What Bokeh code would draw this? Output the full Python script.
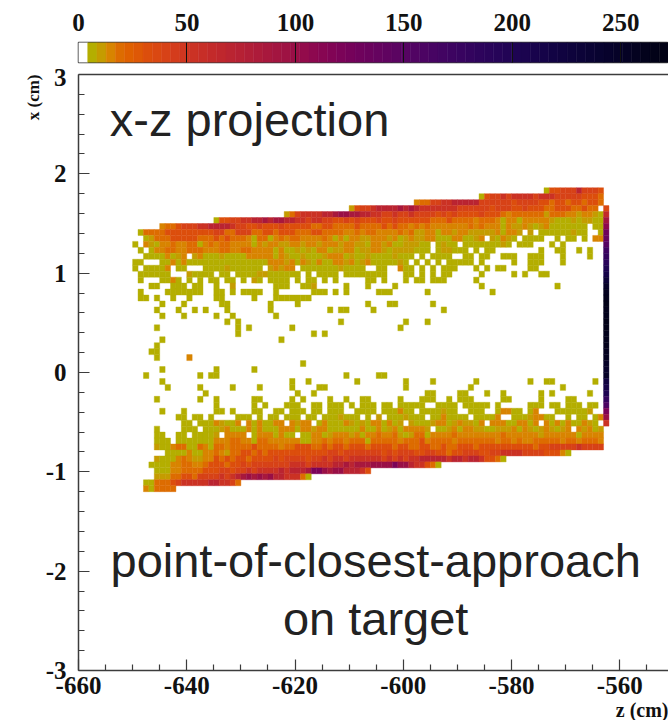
from bokeh.plotting import figure
from bokeh.layouts import column
from bokeh.models import ColumnDataSource, LinearColorMapper, LinearAxis, FixedTicker, Label, Title
from bokeh.embed import file_html
from bokeh.resources import INLINE

# tick labels
z_ticks = [-660, -640, -620, -600, -580, -560]
z_minor = [-655, -650, -645, -635, -630, -625, -615, -610, -605, -595, -590, -585, -575, -570, -565, -555]
x_ticks = [-3, -2, -1, 0, 1, 2, 3]
x_minor = [-2.8, -2.6, -2.4, -2.2, -1.8, -1.6, -1.4, -1.2, -0.8, -0.6, -0.4, -0.2,
           0.2, 0.4, 0.6, 0.8, 1.2, 1.4, 1.6, 1.8, 2.2, 2.4, 2.6, 2.8]
color_ticks = [0, 50, 100, 150, 200, 250]
count_max = 272

palette = ["#ffffff", "#b4ae00", "#c59c00", "#d88400", "#dd6c00", "#df6000", "#de5806", "#dc4e0c",
           "#da4812", "#d74217", "#d43c1c", "#d03720", "#cb3224", "#c72e27", "#c32a2a", "#bf272d",
           "#ba2431", "#b62134", "#b11e37", "#ad1b3a", "#a8183d", "#a31540", "#9e1243", "#990f46",
           "#930b4b", "#8d084f", "#870652", "#810455", "#7b0358", "#75025a", "#6f025c", "#6a025d",
           "#65035f", "#600360", "#5b0461", "#560462", "#510463", "#4c0463", "#470463", "#420462",
           "#3d0461", "#380460", "#33045e", "#2e045c", "#2a045a", "#260458", "#220455", "#1e0452",
           "#1b044f", "#18034c", "#150348", "#120344", "#100340", "#0e033c", "#0c0338", "#0a0334",
           "#080330", "#07022c", "#060228", "#050224", "#040220", "#03021c", "#020218", "#010114"]

# estimated bin contents for each letter
level_counts = {"a": 5, "b": 9, "c": 13, "d": 20, "e": 30, "f": 42, "g": 55, "h": 70,
                "i": 85, "j": 100, "k": 120}

# One string per x bin, top to bottom, z bins in groups of ten from z = -650.
# "-" marks an empty group.
first_row_upper = 31
rows_upper = [
    "- - - - - - - ......aeef ffhfffe",
    "- - - - - - ....aeffgf ggggfgggff fffeeed",
    "- - - - - ..cddffggh hhhhffffff effffeedee deedeed",
    "- - - - beffghhhhi hihggggggg ffffffefff eefeeeddee eddedd.",
    "- - ........bd fgggghhijj iihhggffgf fgffffefef eeeefeeedc ddddddbddd ccbccba",
    "- .....aeeff gghhihiihh ggfggffeef efeeefeefe eeeeeddded dddcdddcac cacccccbaa ababbaa",
    ".....cddef ffgghhhhgf feefeeefee eeeddeeddd deddddeded dcdcdccccc ccdcdcccac bbcbabcaaa aaaa.aa",
    ".addddeeee eeeeeffddf ffddeedeee dddeeddddc cdcddccccd cdbbccaccb ccbbbbbcac cb.b.aaaaa abaa..a",
    "..abdddeee eedddededd dcaddacdcd dccccdcaca ccbbcccbca bcbbccaaac caabc.bacb a.aaaa..a. aa.a.cc",
    "a.cbaccdcc ddacdcddcc ccacbccbbc cbccbcccbc cbbaccbcaa bbbaa.abaa .aaaaaaaba .aaa...a.a",
    ".a.accddcc dddcccddcc ddccccacaa babaccabbc cabbccbabb bbaaa.abba aa.a.aa... .....a..aa ..a.a..",
    "..aaaacabc .bcaaabaaa acccccacba abaaabccca baabaaaaba aa.a.aaaa. .aa.aa..aa a..aaa...a ....a..",
    "aa...aacac aaaaaaaaaa aaaaacccbc acbacaaccb cabcaaaaab a.a.a.a.aa aaa.a..... a..aaa...a",
    "a.aaaac.aa ...aaaabaa aaaa.bcbcc .aaaaaaaba aaa..aa..c aa.a.a.aaa ...a.a.aa. ...aa.....",
    ".aaaaaa... baaaa.aa.a aaabbaaaaa a.a.aaaa.a aaaaaaa... aa.a.a.aa. ....a..... a.a..aa...",
    ".a...aaca. a.a.aa.aa. a.ba.aaaa. a.aa.a.a.. ...aa.a... a.aa.aaa.. ...a......",
    "...aa..aaa .aa..a..b. ......aaa. .aab.....a ...a....a. - ....a..... ........a.",
    ".a....aaaa aaa..aa.a. aaaa..a... ...aaa.a.a .....aaa.. ....a..... ......a...",
    ".aa.a..a.. a....aa... ..a...aaaa aaa.......",
    ".....a...a ......aa.. .....a.... a......... ...a...aa. .....a....",
    "....a...a. .a.a...a.. .....a.... ......a.aa ....a..... .......a..",
    ".....a...a .....a..a. ......a...",
    "- .......a.a - ........a. - a...a.....",
    "....a..... .........a .a.......a - .........a",
    "- .........a - ...a.a....",
    ".....a.... - .......a..",
    "....a.....",
    "...aa.....",
    "....a..... c.........",
    "- - - .a........",
    ".....a.... .....a.... ..a.......",
    "..a....... ..a.aa.... - .........a .....aa...",
]

first_row_lower = -1
rows_lower = [
    ".....a.... - .........a ..a....... .a........ a....a.... ...a...... ...a..aa.. .....a.",
    "......a... ..a.....a. ...a.....a ....aa.... - a......... ..a....... .........a",
    "- ...a...... - a..a...... - ....aa.... aa...a..a. .....a.a.. ....a..",
    "....a..... ..a..a.... ..aa.....a .a....a..a ..aa.....a ...aaa..a. aaa.....aa .....a.... aa.....",
    "- .....a.... ..a.a...aa a..aa.aaa. a.aaa.aa.a aaaa..aaaa .aaaaa.a.. ...aaa.aa. aaa.aa.",
    ".....a...a .....aa.a. ..aa..aa.a aa.aa.aaa. .aaaa.aaac aa.aaaabaa ..aaa..acc aa.ac...aa aaaab..",
    "........aa .aa.a....a aa.a.aa.aa a.aa.aaaba aa.a.b.aaa baaa.aacaa aa.aaaac.. aaabccaa.. a.aa.ac",
    ".........a a.aaacbaac .cacaacc.c bcc.acaaac babaccacab .baaabccab cbbac.ccca accac.caca caacba.",
    "....a....a aa.aaabcaa acacaaaccc accbccaaaa aacaacabca ccccb.aabc accbbaabbb cacbabcbab c.cbcab",
    "....aa..aa .aaaab.ccc c.acccacaa .aaccabccc bcaccdccdb abddaccccd ccccccccdc cccccbcccc ccacccc",
    "....aaa.aa aaaaacccdd ccaddccccc caaccdcddc dddadddddc dddecddddc dddddddcdd cdccdddddc ddcdddc",
    "....baacdd aadcaddcdd ddeddddcdd eeeddedeed eeedeeeede eddeeddedd eeedeeeeee eeeedeefff ffgffff",
    "......aaaa caaccdcbdd eededeeeee eeeeeeffef ffffffefef ffeeffeede efffeeffgg ggffffeeec a......",
    "....baaacd cbbccedede edeeeefeff ffeffgfggf ggggggfgfg fgghhhhhgh hghhgeeda.",
    "...aaaaccd dccdeeedee fefffffffg ggfgggghhi hiiijjjjkj jhggeda...",
    "....aaaccd dddeeeffef fgfgggghgh hhikkjijjh hhge......",
    "....bbbdde edffffgfgh ijijijhhgg gda.......",
    "..aadddefg gggghhggfd",
    "..cadddd..",
]

# the thin column at the downstream end of the target
strip_first_row = 28
strip_counts = [35, 60, 90, 110, 130, 140, 150, 170, 180, 190, 200, 215, 230, 250, 255, 260, 265,
                262, 262, 265, 265, 262, 260, 262, 258, 255, 250, 245, 250, 225, 215, 200, 180,
                160, 120, 100, 55]
strip_z_bin = -563

z_bin_start = -650
z_bin_width = 1.0
x_bin_width = 0.06

INK = "#111111"
AXIS = "#3c3c3c"
SERIF = "Liberation Serif"
SANS = "Liberation Sans"


def read_rows(rows, first_row):
    zs, xs, vs = [], [], []
    for r, row in enumerate(rows):
        k = first_row - r
        for g, group in enumerate(row.split(" ")):
            if group == "-":
                continue
            for i, ch in enumerate(group):
                if ch in level_counts:
                    zs.append(z_bin_start + 10 * g + i + z_bin_width / 2)
                    xs.append((k - 0.5) * x_bin_width)
                    vs.append(level_counts[ch])
    return zs, xs, vs


z1, x1, v1 = read_rows(rows_upper, first_row_upper)
z2, x2, v2 = read_rows(rows_lower, first_row_lower)
z3 = [strip_z_bin + z_bin_width / 2 for _ in strip_counts]
x3 = [(strip_first_row - i - 0.5) * x_bin_width for i in range(len(strip_counts))]

source = ColumnDataSource(dict(z=z1 + z2 + z3, x=x1 + x2 + x3, n=v1 + v2 + strip_counts))
mapper = LinearColorMapper(palette=palette, low=0, high=count_max)

# ---------- colour scale
step = count_max / len(palette)
cb = figure(width=668, height=68, x_range=(0, count_max), y_range=(0, 1),
            output_backend="svg", toolbar_location=None, x_axis_location="above",
            min_border_left=78, min_border_right=0, min_border_top=42, min_border_bottom=6)
cb.quad(left=[i * step for i in range(len(palette))],
        right=[(i + 1) * step for i in range(len(palette))],
        bottom=0, top=1, fill_color=palette, line_color=palette, line_width=0.5)
cb.yaxis.visible = False
cb.ygrid.visible = False
cb.xaxis.ticker = FixedTicker(ticks=color_ticks)
cb.xaxis.axis_line_color = None
cb.xaxis.major_tick_line_color = None
cb.xaxis.minor_tick_line_color = None
cb.xaxis.major_label_standoff = 6
cb.xaxis.major_label_text_font = SERIF
cb.xaxis.major_label_text_font_style = "bold"
cb.xaxis.major_label_text_font_size = "25px"
cb.xaxis.major_label_text_color = INK
cb.xgrid.ticker = FixedTicker(ticks=color_ticks)
cb.xgrid.grid_line_color = "#111111"
cb.xgrid.grid_line_width = 1
cb.xgrid.level = "overlay"
cb.outline_line_color = AXIS
cb.outline_line_width = 1.5

# ---------- main panel
p = figure(width=668, height=652, x_range=(-660, -551), y_range=(-3, 3),
           output_backend="svg", toolbar_location=None,
           min_border_left=78, min_border_right=0, min_border_top=6, min_border_bottom=50)
p.rect(x="z", y="x", width=z_bin_width, height=x_bin_width, source=source,
       fill_color={"field": "n", "transform": mapper},
       line_color={"field": "n", "transform": mapper}, line_width=0.4)
p.grid.visible = False
p.outline_line_color = None

for ax, major, minor in ((p.xaxis, z_ticks, z_minor), (p.yaxis, x_ticks, x_minor)):
    ax.ticker = FixedTicker(ticks=major, minor_ticks=minor)
    ax.major_label_overrides = {t: str(t) for t in major}
    ax.major_tick_in = 11
    ax.major_tick_out = 0
    ax.minor_tick_in = 6
    ax.minor_tick_out = 0
    ax.axis_line_color = AXIS
    ax.axis_line_width = 1.5
    ax.major_tick_line_color = AXIS
    ax.major_tick_line_width = 1.2
    ax.minor_tick_line_color = AXIS
    ax.minor_tick_line_width = 1.2
    ax.major_label_text_font = SERIF
    ax.major_label_text_font_style = "bold"
    ax.major_label_text_font_size = "25px"
    ax.major_label_text_color = INK
p.xaxis.major_label_standoff = 6
p.yaxis.major_label_standoff = 12

top_axis = LinearAxis(ticker=FixedTicker(ticks=[]), axis_line_color=AXIS, axis_line_width=1.5,
                      major_tick_line_color=None, minor_tick_line_color=None,
                      major_label_text_color=None)
p.add_layout(top_axis, "above")

p.add_layout(Title(text="x (cm)", align="right", text_font=SERIF, text_font_style="bold",
                   text_font_size="17px", text_color=INK, standoff=0), "left")
p.add_layout(Title(text="z (cm)", align="right", text_font=SERIF, text_font_style="bold",
                   text_font_size="20px", text_color=INK, standoff=0), "below")

for zpos, xpos, txt, size in ((-628.4, 2.55, "x-z projection", "47px"),
                              (-605.1, -1.89, "point-of-closest-approach", "47px"),
                              (-605.1, -2.48, "on target", "47px")):
    p.add_layout(Label(x=zpos, y=xpos, text=txt, text_align="center", text_baseline="middle",
                       text_font=SANS, text_font_size=size, text_color="#222222"))

page = column(cb, p, spacing=0)
open("out.html", "w").write(file_html(page, INLINE))
